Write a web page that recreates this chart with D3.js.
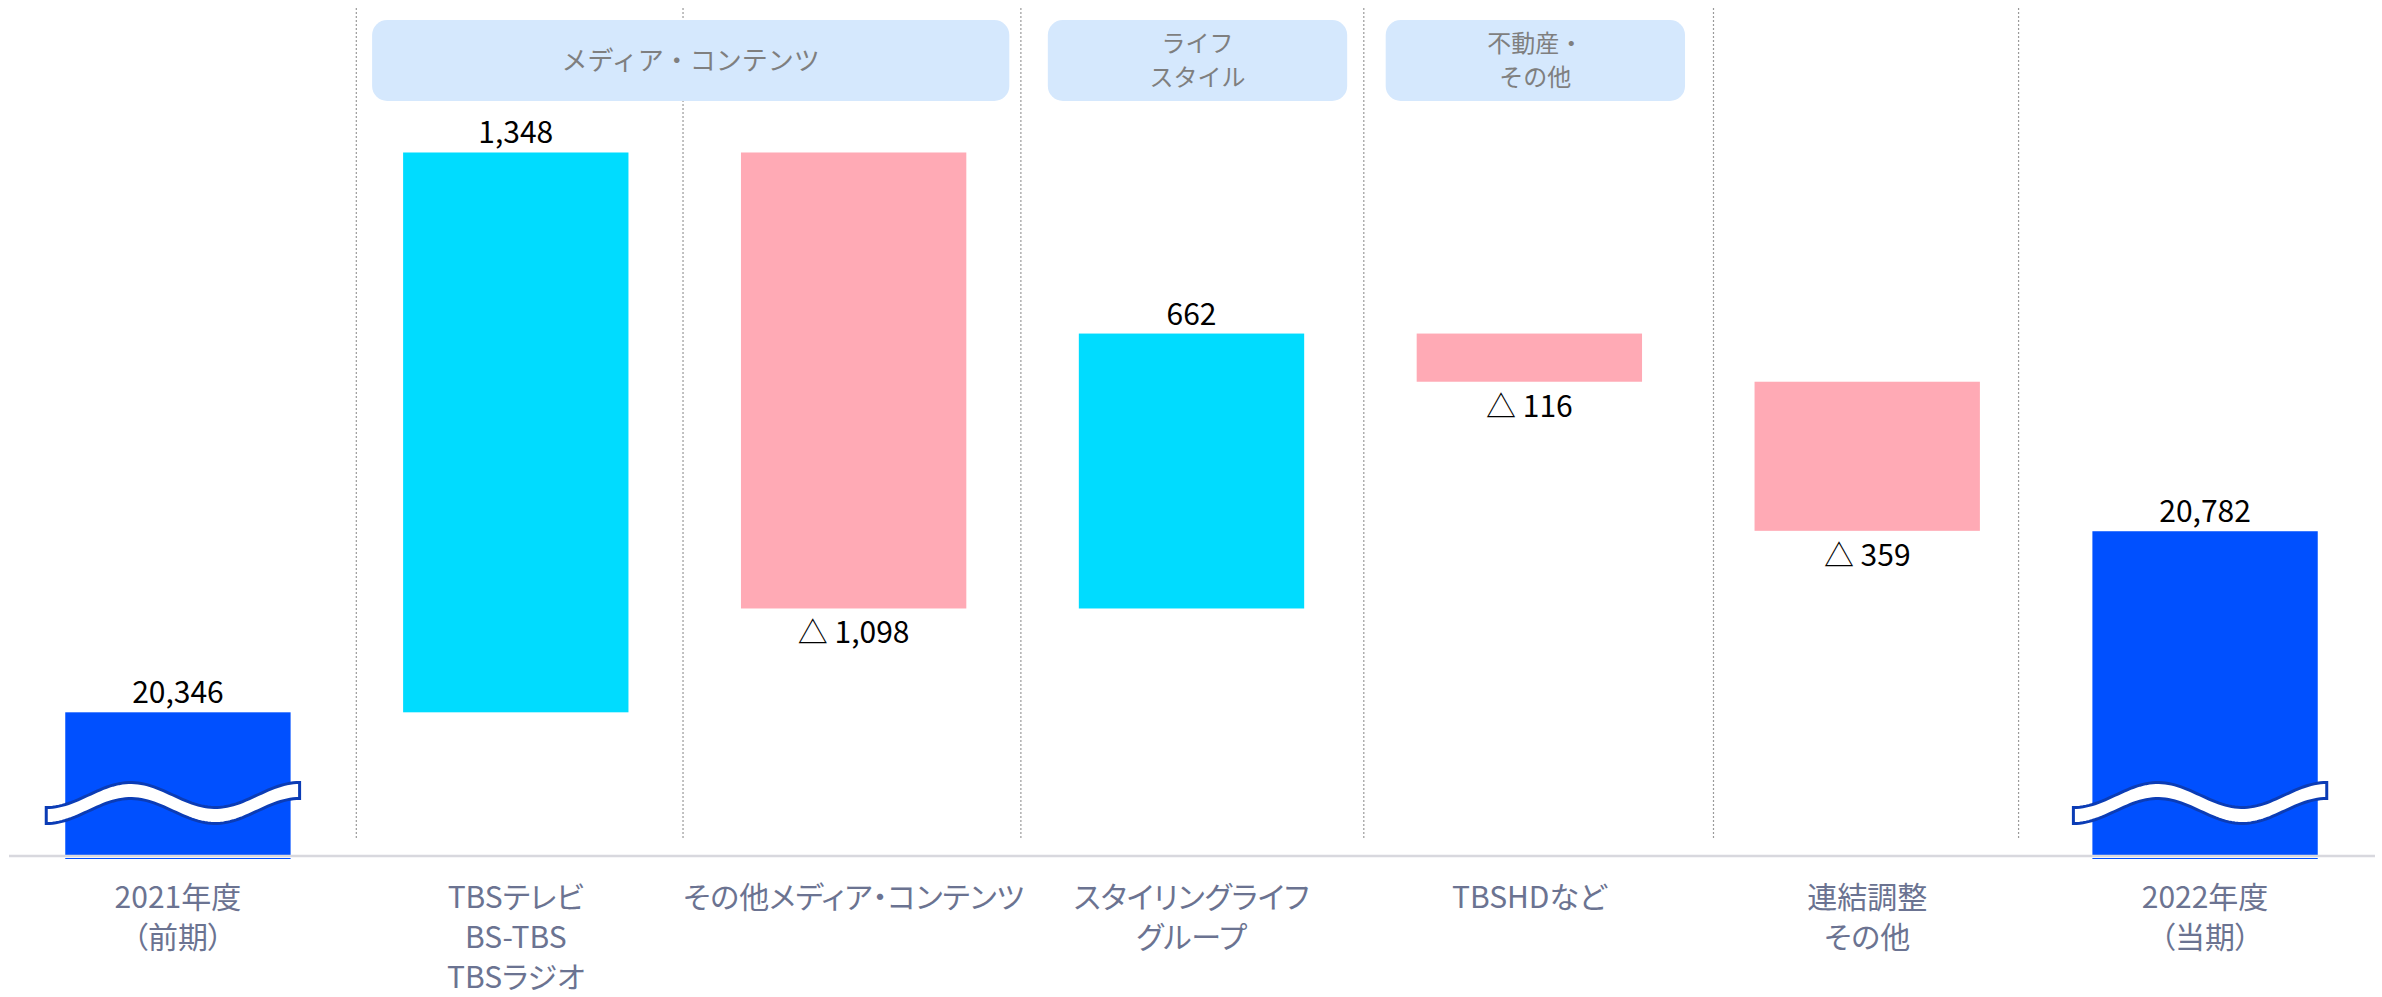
<!DOCTYPE html>
<html>
<head>
<meta charset="utf-8">
<script src="https://cdn.jsdelivr.net/npm/d3@7"></script>
<style>
  html, body { margin: 0; padding: 0; background: #ffffff; }
  svg { display: block; }
  .cat { font-family: "Noto Sans CJK JP", "Noto Sans", sans-serif; font-feature-settings: "palt"; }
  .val { font-family: "Noto Sans CJK JP", "Noto Sans", sans-serif; }
  .seg { font-family: "Noto Sans CJK JP", "Noto Sans", sans-serif; }
</style>
</head>
<body>
<script>
// ---- data ----
const categories = [
  ["2021年度", "（前期）"],
  ["TBSテレビ", "BS-TBS", "TBSラジオ"],
  ["その他メディア・コンテンツ"],
  ["スタイリングライフ", "グループ"],
  ["TBSHDなど"],
  ["連結調整", "その他"],
  ["2022年度", "（当期）"]
];
const values = [20346, 1348, -1098, 662, -116, -359, 20782];
const barTypes = ["total", "delta", "delta", "delta", "delta", "delta", "total"];
const segmentNames = [["メディア・コンテンツ"], ["ライフ", "スタイル"], ["不動産・", "その他"]];
const segmentFirst = [1, 3, 4];
const segmentLast = [2, 3, 4];
const axisBreakValue = 20000;
const yMax = 21700;

// ---- layout ----
const W = 2382, H = 997;
const svg = d3.select("body").append("svg").attr("width", W).attr("height", H);

const x = d3.scaleBand().domain(d3.range(categories.length))
  .range([9, 2374]).paddingInner(0.333).paddingOuter(0.1665);
const y = d3.scaleLinear().domain([axisBreakValue, yMax]).range([856, 150]);
const bw = x.bandwidth();
const step = x.step();

// waterfall computation
let running = 0;
const bars = values.map((v, i) => {
  let lo, hi;
  if (barTypes[i] === "total") { lo = axisBreakValue; hi = v; running = v; }
  else { const s = running; running = s + v; lo = Math.min(s, running); hi = Math.max(s, running); }
  return { i, v, type: barTypes[i], lo, hi };
});

const colors = { total: "#0050ff", up: "#00dcff", down: "#ffaab5" };
const fmt = d3.format(",");

// dividers (dotted)
const slot = s => x(0) + bw / 2 + s * step;
const dividerSlots = [0.528, 1.495, 2.495, 3.51, 4.545, 5.448];
svg.append("g").selectAll("line").data(dividerSlots).join("line")
  .attr("x1", d => slot(d)).attr("x2", d => slot(d))
  .attr("y1", 8).attr("y2", 838)
  .attr("stroke", "#9a9a9a").attr("stroke-width", 1.2)
  .attr("stroke-dasharray", "2,2");

// segment boxes
const segG = svg.append("g");
segmentNames.forEach((lines, k) => {
  const x0 = x(segmentFirst[k]) - 31;
  const x1 = x(segmentLast[k]) + bw + 43;
  segG.append("rect").attr("x", x0).attr("y", 20).attr("width", x1 - x0).attr("height", 81)
    .attr("rx", 15).attr("ry", 15).attr("fill", "#d5e8fd");
  const lh = 34;
  const cy = 60.5 - (lines.length - 1) * lh / 2;
  lines.forEach((t, j) => {
    segG.append("text").attr("class", "seg")
      .attr("x", (x0 + x1) / 2).attr("y", cy + j * lh)
      .attr("dy", "0.36em")
      .attr("text-anchor", "middle").attr("font-size", lines.length > 1 ? 24 : 26).attr("fill", "#7f7f7f")
      .text(t);
  });
});

// bars
const barG = svg.append("g");
barG.selectAll("rect").data(bars).join("rect")
  .attr("x", d => x(d.i)).attr("width", bw)
  .attr("y", d => y(d.hi))
  .attr("height", d => d.type === "total" ? y(d.lo) - y(d.hi) + 3 : y(d.lo) - y(d.hi))
  .attr("fill", d => d.type === "total" ? colors.total : (d.v >= 0 ? colors.up : colors.down));

// axis baseline
svg.append("line").attr("x1", 9).attr("x2", 2375)
  .attr("y1", y(axisBreakValue) + 1.5).attr("y2", y(axisBreakValue) + 1.5)
  .attr("stroke", "#ffffff").attr("stroke-width", 1);
svg.append("line").attr("x1", 9).attr("x2", 2375)
  .attr("y1", y(axisBreakValue)).attr("y2", y(axisBreakValue))
  .attr("stroke", "#d8d8de").attr("stroke-width", 2.4);

// wave break symbols on total bars
const waveG = svg.append("g");
bars.filter(d => d.type === "total").forEach(d => {
  const x0 = x(d.i) - 19, x1 = x(d.i) + bw + 9;
  const cy = y(axisBreakValue) - 53, A = 12.5, half = 8;
  const P = (x1 - x0) / 1.5;
  const n = 80;
  const pts = d3.range(n + 1).map(k => {
    const xx = x0 + (x1 - x0) * k / n;
    return [xx, cy + A * Math.cos(2 * Math.PI * (xx - x0) / P)];
  });
  const upper = pts.map(p => [p[0], p[1] - half]);
  const lower = pts.map(p => [p[0], p[1] + half]).reverse();
  waveG.append("path")
    .attr("d", d3.line()(upper.concat(lower)) + "Z")
    .attr("fill", "#ffffff").attr("stroke", "#0b3cb5").attr("stroke-width", 3)
    .attr("stroke-linejoin", "miter");
});

// value labels
svg.append("g").selectAll("text").data(bars).join("text")
  .attr("class", "val")
  .attr("x", d => x(d.i) + bw / 2)
  .attr("y", d => (d.type === "total" || d.v >= 0) ? y(d.hi) - 9 : y(d.lo) + 35)
  .attr("text-anchor", "middle").attr("font-size", 30).attr("fill", "#000")
  .text(d => (d.type === "total" || d.v >= 0) ? fmt(d.v) : "△ " + fmt(-d.v));

// category labels
const catG = svg.append("g");
categories.forEach((lines, i) => {
  lines.forEach((t, j) => {
    catG.append("text").attr("class", "cat")
      .attr("x", x(i) + bw / 2).attr("y", 908 + j * 40)
      .attr("text-anchor", "middle").attr("font-size", 30).attr("fill", "#6b7391")
      .text(t);
  });
});
</script>
</body>
</html>
